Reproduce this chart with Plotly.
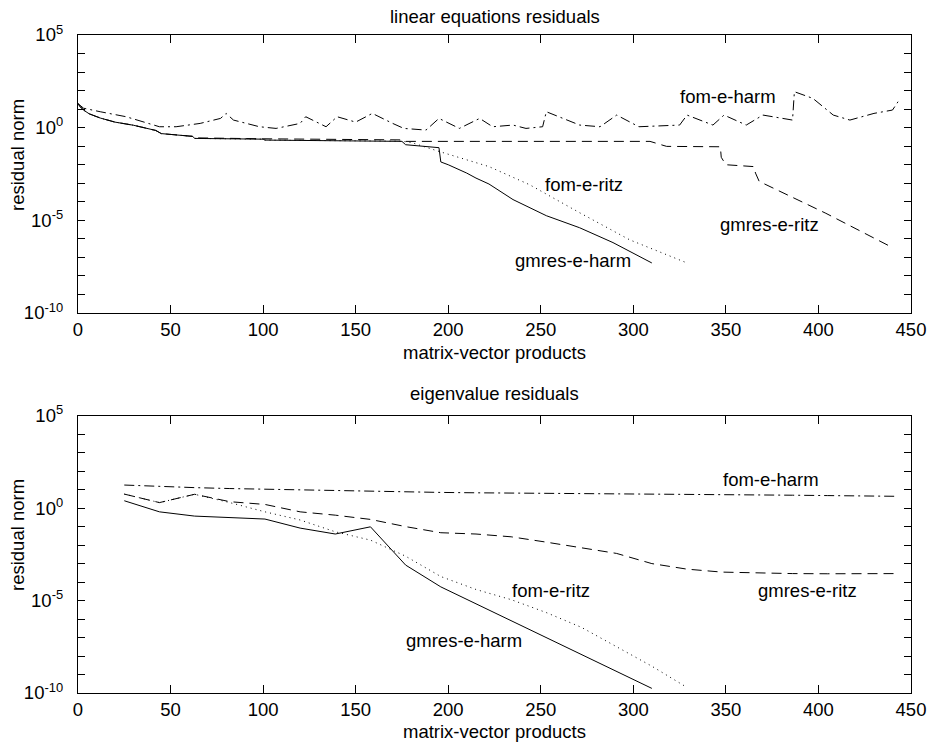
import plotly.graph_objects as go

# ---------------- data (log10 of residual norm) ----------------
# Top panel: linear equations residuals
top_gmres_e_harm_x = [0, 1, 3, 6, 12, 20, 30, 42, 45, 55, 62, 63, 100, 101, 175, 177, 195, 196,
                      200, 210, 215, 222, 235, 253, 271, 289, 303, 310]
top_gmres_e_harm_log = [1.3, 1.15, 0.95, 0.75, 0.52, 0.3, 0.13, -0.15, -0.32, -0.4, -0.47, -0.58,
                        -0.62, -0.67, -0.74, -0.92, -1.08, -1.85, -2.0, -2.45, -2.72, -3.04,
                        -3.88, -4.75, -5.4, -6.2, -6.95, -7.3]

top_fom_e_ritz_x = [0, 1, 3, 6, 12, 20, 30, 42, 45, 55, 62, 63, 100, 101, 175, 180, 195,
                    222, 244, 271, 298, 329]
top_fom_e_ritz_log = [1.3, 1.15, 0.95, 0.75, 0.52, 0.3, 0.13, -0.15, -0.32, -0.4, -0.47, -0.58,
                      -0.62, -0.67, -0.73, -0.8, -1.28, -2.1, -3.08, -4.59, -6.05, -7.3]

top_gmres_e_ritz_x = [0, 1, 3, 6, 12, 20, 30, 42, 45, 55, 62, 63, 100, 175, 177, 309, 318,
                      347, 347.5, 350, 365, 366, 368, 404, 439]
top_gmres_e_ritz_log = [1.3, 1.15, 0.95, 0.75, 0.52, 0.3, 0.13, -0.15, -0.32, -0.4, -0.47, -0.55,
                        -0.6, -0.66, -0.74, -0.74, -1.01, -1.03, -1.6, -2.0, -2.1, -2.45,
                        -2.9, -4.62, -6.42]

top_fom_e_harm_x = [0, 3, 12, 26, 44, 53, 66, 77, 80, 84, 98, 107, 120, 123, 134, 140, 150,
                    159, 170, 176, 188, 195, 206, 217, 224, 235, 242, 251, 253, 264, 271,
                    282, 291, 303, 325, 329, 343, 349, 361, 370, 386, 387, 397, 408, 417,
                    430, 440, 443]
top_fom_e_harm_log = [1.3, 1.05, 0.86, 0.59, 0.05, 0.05, 0.23, 0.5, 0.77, 0.41, 0.05, -0.04,
                      0.23, 0.59, 0.05, 0.59, 0.3, 0.77, 0.23, -0.04, -0.13, 0.5, -0.04, 0.5,
                      0.05, 0.14, -0.04, 0.05, 0.86, 0.41, 0.14, 0.05, 0.68, 0.05, 0.14, 0.68,
                      0.14, 0.68, 0.14, 0.68, 0.41, 1.94, 1.58, 0.68, 0.41, 0.77, 0.95, 1.4]

# Bottom panel: eigenvalue residuals
bot_x = [25, 44, 63, 82, 101, 120, 139, 158, 177, 196, 215, 234, 253, 272, 291, 310, 329,
         348, 367, 386, 405, 424, 443]
bot_gmres_e_harm_log = [0.40, -0.2, -0.43, -0.51, -0.59, -1.08, -1.4, -1.01, -3.08, -4.26,
                        -5.18, -6.1, -7.0, -7.92, -8.83, -9.75]
bot_fom_e_ritz_log = [0.76, 0.30, 0.75, 0.3, -0.2, -0.64, -1.28, -1.73, -2.6, -3.7, -4.4,
                      -4.95, -5.65, -6.45, -7.5, -8.55, -9.7]
bot_gmres_e_ritz_log = [0.76, 0.30, 0.75, 0.35, 0.2, -0.2, -0.38, -0.61, -1.0, -1.33, -1.4,
                        -1.55, -1.84, -2.15, -2.45, -3.0, -3.3, -3.46, -3.52, -3.54, -3.55,
                        -3.55, -3.54]
bot_fom_e_harm_log = [1.25, 1.17, 1.11, 1.06, 1.02, 0.98, 0.94, 0.9, 0.87, 0.85, 0.83, 0.82,
                      0.81, 0.8, 0.79, 0.78, 0.76, 0.74, 0.72, 0.7, 0.68, 0.66, 0.64]

series_names = ["gmres-e-harm", "fom-e-ritz", "gmres-e-ritz", "fom-e-harm"]
panel_titles = ["linear equations residuals", "eigenvalue residuals"]
x_title = "matrix-vector products"
y_title = "residual norm"
x_ticks = [0, 50, 100, 150, 200, 250, 300, 350, 400, 450]
y_major_exp = [-10, -5, 0, 5]
y_minor_exp = list(range(-10, 6))

# label positions (data coords: x, log10 y)
top_label_x = [267.6, 273.3, 373.8, 350.9]
top_label_log = [-7.17, -3.08, -5.24, 1.66]
bot_label_x = [208.6, 255.5, 394.0, 374.1]
bot_label_log = [-7.18, -4.47, -4.47, 1.57]

# ---------------- figure ----------------
FONT = "Liberation Sans, Arial, Helvetica, sans-serif"
FS = 18.5
dashes = ["solid", "1px,4px", "10px,6px", "10px,4px,2px,4px"]

def pw(v):
    return [10 ** e for e in v]

fig = go.Figure()
top = [(top_gmres_e_harm_x, top_gmres_e_harm_log), (top_fom_e_ritz_x, top_fom_e_ritz_log),
       (top_gmres_e_ritz_x, top_gmres_e_ritz_log), (top_fom_e_harm_x, top_fom_e_harm_log)]
bot = [bot_gmres_e_harm_log, bot_fom_e_ritz_log, bot_gmres_e_ritz_log, bot_fom_e_harm_log]

for (xs, ys), name, d in zip(top, series_names, dashes):
    fig.add_trace(go.Scatter(x=xs, y=pw(ys), mode="lines", name=name,
                             line=dict(color="black", width=1, dash=d),
                             xaxis="x", yaxis="y", showlegend=False))
for ys, name, d in zip(bot, series_names, dashes):
    fig.add_trace(go.Scatter(x=bot_x[:len(ys)], y=pw(ys), mode="lines", name=name,
                             line=dict(color="black", width=1, dash=d),
                             xaxis="x2", yaxis="y2", showlegend=False))

ytickvals = [10 ** e for e in y_major_exp]
yticktext = ["10<sup>%d</sup>" % e for e in y_major_exp]
yminor = [10 ** e for e in y_minor_exp]

def xaxis(domain_anchor):
    return dict(range=[0, 450], tickvals=x_ticks, ticks="inside", ticklen=8,
                tickcolor="black", tickwidth=1, showline=True, linecolor="black",
                linewidth=1.3, mirror="ticks", showgrid=False, zeroline=False,
                anchor=domain_anchor, domain=[0, 1], automargin=False,
                tickfont=dict(family=FONT, size=FS, color="black"), ticklabelstandoff=0)

def yaxis(dom, anchor):
    return dict(type="log", range=[-10, 5], tickvals=ytickvals, ticktext=yticktext,
                ticks="inside", ticklen=7, tickcolor="black", tickwidth=1,
                minor=dict(tickvals=yminor, ticks="inside", ticklen=7, tickcolor="black",
                           tickwidth=1, showgrid=False),
                showline=True, linecolor="black", linewidth=1.3, mirror="ticks",
                showgrid=False, zeroline=False, domain=dom, anchor=anchor, automargin=False,
                tickfont=dict(family=FONT, size=FS, color="black"), ticklabelstandoff=10)

fig.update_layout(
    width=927, height=744,
    margin=dict(l=78, r=16, t=35, b=51, autoexpand=False),
    paper_bgcolor="white", plot_bgcolor="white",
    font=dict(family=FONT, size=FS, color="black"),
    xaxis=xaxis("y"), yaxis=yaxis([0.5775, 1.0], "x"),
    xaxis2=xaxis("y2"), yaxis2=yaxis([0.0, 0.4214], "x2"),
)

ann = []
for xs, ls, xr, yr in [(top_label_x, top_label_log, "x", "y"),
                       (bot_label_x, bot_label_log, "x2", "y2")]:
    for name, lx, ly in zip(series_names, xs, ls):
        ann.append(dict(x=lx, y=ly, xref=xr, yref=yr, text=name, showarrow=False,
                        xanchor="center", yanchor="middle",
                        font=dict(family=FONT, size=FS, color="black")))

# panel titles and axis titles (paper coords); p = pixel y
def py(p):
    return (693 - p) / 658.0

for t, yy in zip(panel_titles, [16, 394]):
    ann.append(dict(x=0.5, y=py(yy), xref="paper", yref="paper", text=t, showarrow=False,
                    xanchor="center", yanchor="middle", font=dict(family=FONT, size=FS)))
for yy in [352, 731]:
    ann.append(dict(x=0.5, y=py(yy), xref="paper", yref="paper", text=x_title,
                    showarrow=False, xanchor="center", yanchor="middle",
                    font=dict(family=FONT, size=FS)))
for yy in [155, 535]:
    ann.append(dict(x=-(78 - 17) / 833.0, y=py(yy), xref="paper", yref="paper", text=y_title,
                    showarrow=False, textangle=-90, xanchor="center", yanchor="middle",
                    font=dict(family=FONT, size=FS)))
fig.update_layout(annotations=ann)

# remove the page's default body margin so the 927x744 figure fills the window exactly
fig.write_html("out.html", config={"displayModeBar": False},
               post_script="document.body.style.margin='0';document.body.style.overflow='hidden';")
